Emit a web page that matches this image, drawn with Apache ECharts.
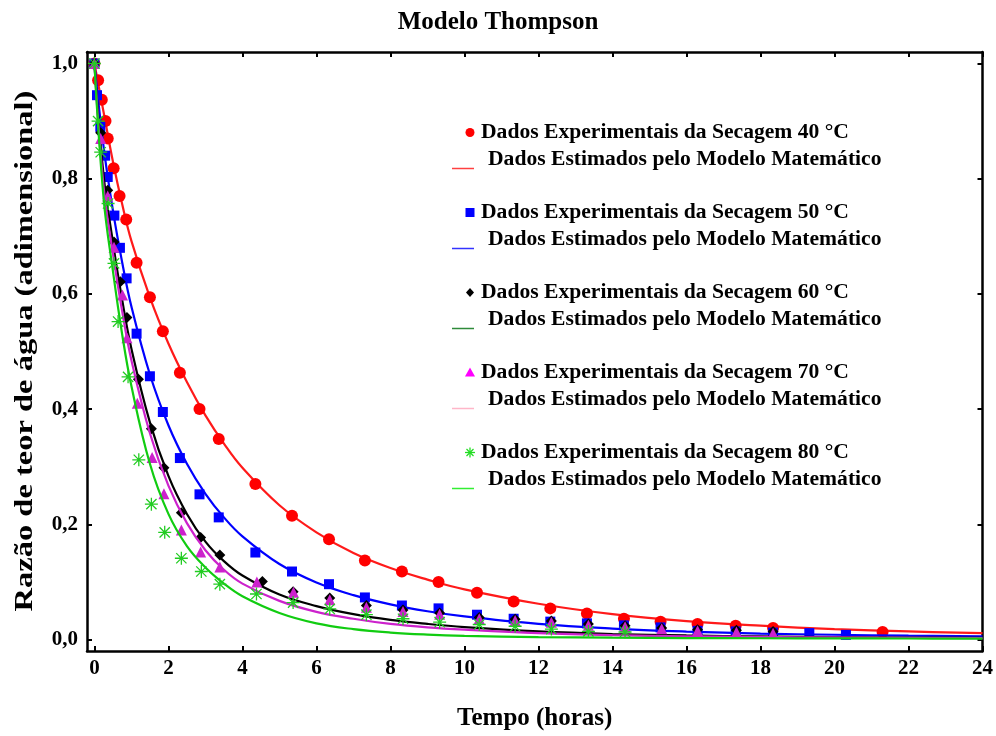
<!DOCTYPE html>
<html>
<head>
<meta charset="utf-8">
<script src="https://cdn.jsdelivr.net/npm/echarts@6/dist/echarts.min.js"></script>
<style>
  html, body { margin: 0; padding: 0; background: #fff; }
  #main { width: 996px; height: 736px; }
</style>
</head>
<body>
<div id="main"></div>
<script>
// ticks
const xTicks = [0, 2, 4, 6, 8, 10, 12, 14, 16, 18, 20, 22, 24]
const yTicks = [0, 0.2, 0.4, 0.6, 0.8, 1.0]

// dados experimentais (tempo em horas, razao de teor de agua)
const t40 = [0, 0.10, 0.20, 0.30, 0.36, 0.52, 0.68, 0.86, 1.14, 1.50, 1.85, 2.31, 2.84, 3.36, 4.35, 5.34, 6.34, 7.31, 8.31, 9.30, 10.34, 11.33, 12.32, 13.31, 14.31, 15.30, 16.30, 17.33, 18.34, 21.30]
const y40 = [1.0, 0.971, 0.937, 0.900, 0.870, 0.818, 0.770, 0.729, 0.654, 0.594, 0.535, 0.463, 0.400, 0.348, 0.270, 0.215, 0.174, 0.137, 0.118, 0.100, 0.081, 0.066, 0.054, 0.045, 0.036, 0.031, 0.027, 0.024, 0.020, 0.013]

const t50 = [0, 0.07, 0.16, 0.29, 0.36, 0.54, 0.69, 0.87, 1.14, 1.50, 1.85, 2.31, 2.84, 3.36, 4.35, 5.34, 6.34, 7.31, 8.31, 9.30, 10.34, 11.33, 12.32, 13.31, 14.31, 15.30, 16.30, 17.33, 18.34, 19.32, 20.31]
const y50 = [1.0, 0.945, 0.890, 0.840, 0.803, 0.736, 0.680, 0.627, 0.531, 0.457, 0.395, 0.315, 0.252, 0.212, 0.151, 0.118, 0.096, 0.073, 0.059, 0.054, 0.043, 0.036, 0.031, 0.028, 0.0245, 0.021, 0.015, 0.014, 0.012, 0.011, 0.008]

const t60 = [0, 0.17, 0.36, 0.53, 0.70, 0.88, 1.19, 1.54, 1.88, 2.35, 2.87, 3.39, 4.54, 5.37, 6.36, 7.35, 8.34, 9.33, 10.40, 11.37, 12.35, 13.35, 14.34, 15.33, 16.30, 17.35, 18.34]
const y60 = [1.0, 0.88, 0.78, 0.690, 0.621, 0.559, 0.452, 0.366, 0.298, 0.220, 0.177, 0.1465, 0.1005, 0.083, 0.072, 0.059, 0.051, 0.046, 0.038, 0.035, 0.032, 0.027, 0.024, 0.020, 0.017, 0.016, 0.014]

const t70 = [0, 0.17, 0.36, 0.53, 0.76, 0.88, 1.16, 1.56, 1.88, 2.35, 2.87, 3.39, 4.39, 5.38, 6.36, 7.35, 8.34, 9.33, 10.40, 11.37, 12.35, 13.35, 14.34, 15.33, 16.30, 17.35, 18.34]
const y70 = [1.0, 0.87, 0.77, 0.681, 0.598, 0.524, 0.410, 0.316, 0.253, 0.190, 0.152, 0.126, 0.100, 0.082, 0.069, 0.056, 0.0487, 0.044, 0.036, 0.033, 0.030, 0.0245, 0.022, 0.0187, 0.015, 0.013, 0.011]

const t80 = [0, 0.10, 0.17, 0.37, 0.53, 0.64, 0.91, 1.20, 1.54, 1.90, 2.35, 2.89, 3.39, 4.38, 5.37, 6.36, 7.35, 8.34, 9.33, 10.40, 11.37, 12.35, 13.35, 14.34]
const y80 = [1.0, 0.90, 0.846, 0.757, 0.653, 0.552, 0.456, 0.312, 0.235, 0.186, 0.141, 0.118, 0.096, 0.079, 0.064, 0.053, 0.043, 0.036, 0.030, 0.026, 0.023, 0.018, 0.014, 0.013]

// curvas do modelo
const tFit = [0, 0.25, 0.5, 0.75, 1, 1.5, 2, 2.5, 3, 3.5, 4, 5, 6, 7, 8, 9, 10, 12, 14, 16, 18, 20, 22, 24]
const fit40 = [1.0, 0.915, 0.830, 0.756, 0.692, 0.594, 0.514, 0.447, 0.389, 0.340, 0.298, 0.233, 0.186, 0.150, 0.124, 0.104, 0.087, 0.062, 0.044, 0.032, 0.024, 0.018, 0.014, 0.011]
const fit50 = [1.0, 0.855, 0.745, 0.655, 0.578, 0.460, 0.372, 0.305, 0.253, 0.212, 0.179, 0.131, 0.099, 0.077, 0.061, 0.049, 0.040, 0.027, 0.019, 0.0138, 0.0103, 0.0082, 0.0066, 0.0055]
const fit60 = [1.0, 0.805, 0.690, 0.590, 0.505, 0.377, 0.284, 0.218, 0.170, 0.136, 0.111, 0.078, 0.058, 0.044, 0.034, 0.027, 0.0215, 0.014, 0.0095, 0.007, 0.0053, 0.0042, 0.0033, 0.0027]
const fit70 = [1.0, 0.785, 0.670, 0.570, 0.485, 0.358, 0.267, 0.202, 0.155, 0.121, 0.097, 0.067, 0.048, 0.036, 0.027, 0.021, 0.017, 0.011, 0.0075, 0.0056, 0.0044, 0.0035, 0.0029, 0.0025]
const fit80 = [1.0, 0.765, 0.640, 0.530, 0.440, 0.305, 0.218, 0.162, 0.125, 0.097, 0.075, 0.046, 0.028, 0.018, 0.012, 0.0085, 0.0064, 0.0042, 0.0031, 0.0025, 0.0021, 0.0019, 0.0017, 0.0015]

const temps = ['40', '50', '60', '70', '80']
const expLabel = 'Dados Experimentais da Secagem '
const estLabel = 'Dados Estimados pelo Modelo Matemático'

const FONT = '"Liberation Serif", "Times New Roman", serif'
const ASTERISK = 'path://M9 0h2v20h-2z M0 9h20v2h-20z M1.4 2.8L2.8 1.4L18.6 17.2L17.2 18.6z M17.2 1.4L18.6 2.8L2.8 18.6L1.4 17.2z'

const pairs = (xs, ys) => xs.map((x, i) => [x, ys[i]])

const sets = [
    {t: t40, y: y40, fit: fit40, color: '#ff0000', line: '#ff1a1a', symbol: 'circle', size: 12},
    {t: t50, y: y50, fit: fit50, color: '#0000ff', line: '#0000ff', symbol: 'rect', size: 10},
    {t: t60, y: y60, fit: fit60, color: '#000000', line: '#000000', symbol: 'diamond', size: 11},
    {t: t70, y: y70, fit: fit70, color: '#cc22cc', line: '#cc22cc', symbol: 'triangle', size: 11},
    {t: t80, y: y80, fit: fit80, color: '#22cc22', line: '#11cc11', symbol: ASTERISK, size: 13},
]

const series = []
sets.forEach((s, i) => {
    series.push({
        name: 'modelo ' + temps[i],
        type: 'line',
        data: pairs(tFit, s.fit),
        smooth: 0.4,
        showSymbol: false,
        lineStyle: {color: s.line, width: 2.2},
        z: 2 + i * 2,
        silent: true
    })
    series.push({
        name: expLabel + temps[i] + ' °C',
        type: 'scatter',
        data: pairs(s.t, s.y),
        symbol: s.symbol,
        symbolSize: s.size,
        itemStyle: {color: s.color, opacity: 1},
        z: 3 + i * 2,
        silent: true
    })
})

// legenda desenhada a mao
const legendSwatch = ['#ff4040', '#3333ff', '#2e8b3a', '#ffb6c8', '#33ee33']
const legendMarker = ['#ff0000', '#0000ff', '#000000', '#ff00ff', '#22dd22']
const rowY = [132.5, 212.5, 292.5, 372.5, 452.5]
const graphic = []
const textStyle = (txt, x, y) => ({
    type: 'text', x: x, y: y,
    style: {text: txt, fill: '#000', font: 'bold 21.6px ' + FONT, verticalAlign: 'middle'}
})
rowY.forEach((y, i) => {
    const mx = 470
    let marker
    if (i === 0) marker = {type: 'circle', shape: {cx: mx, cy: y, r: 4.5}, style: {fill: legendMarker[i]}}
    if (i === 1) marker = {type: 'rect', shape: {x: mx - 4.5, y: y - 4.5, width: 9, height: 9}, style: {fill: legendMarker[i]}}
    if (i === 2) marker = {type: 'polygon', shape: {points: [[mx, y - 4.5], [mx + 4, y], [mx, y + 4.5], [mx - 4, y]]}, style: {fill: legendMarker[i]}}
    if (i === 3) marker = {type: 'polygon', shape: {points: [[mx, y - 5], [mx + 5, y + 4], [mx - 5, y + 4]]}, style: {fill: legendMarker[i]}}
    if (i === 4) {
        const st = {stroke: legendMarker[i], lineWidth: 1.3}
        marker = {type: 'group', children: [
            {type: 'line', shape: {x1: mx - 5, y1: y, x2: mx + 5, y2: y}, style: st},
            {type: 'line', shape: {x1: mx, y1: y - 5, x2: mx, y2: y + 5}, style: st},
            {type: 'line', shape: {x1: mx - 3.5, y1: y - 3.5, x2: mx + 3.5, y2: y + 3.5}, style: st},
            {type: 'line', shape: {x1: mx - 3.5, y1: y + 3.5, x2: mx + 3.5, y2: y - 3.5}, style: st}
        ]}
    }
    graphic.push(marker)
    graphic.push(textStyle(expLabel + temps[i] + ' °C', 481, y))
    graphic.push({type: 'line', shape: {x1: 452, y1: y + 36, x2: 474, y2: y + 36}, style: {stroke: legendSwatch[i], lineWidth: 1.5}})
    graphic.push(textStyle(estLabel, 488, y + 27))
})

// titulo do eixo y (esticado como no original)
graphic.push({
    type: 'text', x: 26, y: 351, rotation: Math.PI / 2, scaleX: 1.3,
    style: {
        text: 'Razão de teor de água (adimensional)', fill: '#000',
        font: 'bold 25px ' + FONT, align: 'center', verticalAlign: 'middle'
    }
})

const axisCommon = {
    type: 'value',
    axisLine: {show: true, onZero: false, lineStyle: {color: '#000', width: 2.5}},
    splitLine: {show: false}
}

const option = {
    backgroundColor: '#fff',
    animation: false,
    title: {
        text: 'Modelo Thompson',
        left: 'center',
        top: 5,
        textStyle: {fontFamily: FONT, fontWeight: 'bold', fontSize: 25, color: '#000'}
    },
    grid: {left: 87, right: 13, top: 52, bottom: 83},
    xAxis: [
        Object.assign({}, axisCommon, {
            min: -0.2, max: 24, position: 'bottom',
            axisTick: {inside: true, length: 5, customValues: xTicks, lineStyle: {color: '#000', width: 2}},
            axisLabel: {customValues: xTicks, margin: 7, color: '#000', fontFamily: FONT, fontWeight: 'bold', fontSize: 21},
            name: 'Tempo (horas)', nameLocation: 'middle', nameGap: 55,
            nameTextStyle: {fontFamily: FONT, fontWeight: 'bold', fontSize: 25, color: '#000'}
        }),
        Object.assign({}, axisCommon, {
            min: -0.2, max: 24, position: 'top',
            axisTick: {inside: true, length: 5, customValues: xTicks, lineStyle: {color: '#000', width: 2}},
            axisLabel: {show: false}
        })
    ],
    yAxis: [
        Object.assign({}, axisCommon, {
            min: -0.02, max: 1.02, position: 'left',
            axisTick: {inside: true, length: 5, customValues: yTicks, lineStyle: {color: '#000', width: 2}},
            axisLabel: {
                customValues: yTicks, margin: 9, color: '#000', fontFamily: FONT, fontWeight: 'bold', fontSize: 21,
                formatter: v => v.toFixed(1).replace('.', ',')
            }
        }),
        Object.assign({}, axisCommon, {
            min: -0.02, max: 1.02, position: 'right',
            axisTick: {inside: true, length: 5, customValues: yTicks, lineStyle: {color: '#000', width: 2}},
            axisLabel: {show: false}
        })
    ],
    series: series,
    graphic: graphic
}

const chart = echarts.init(document.getElementById('main'))
chart.setOption(option)
</script>
</body>
</html>
